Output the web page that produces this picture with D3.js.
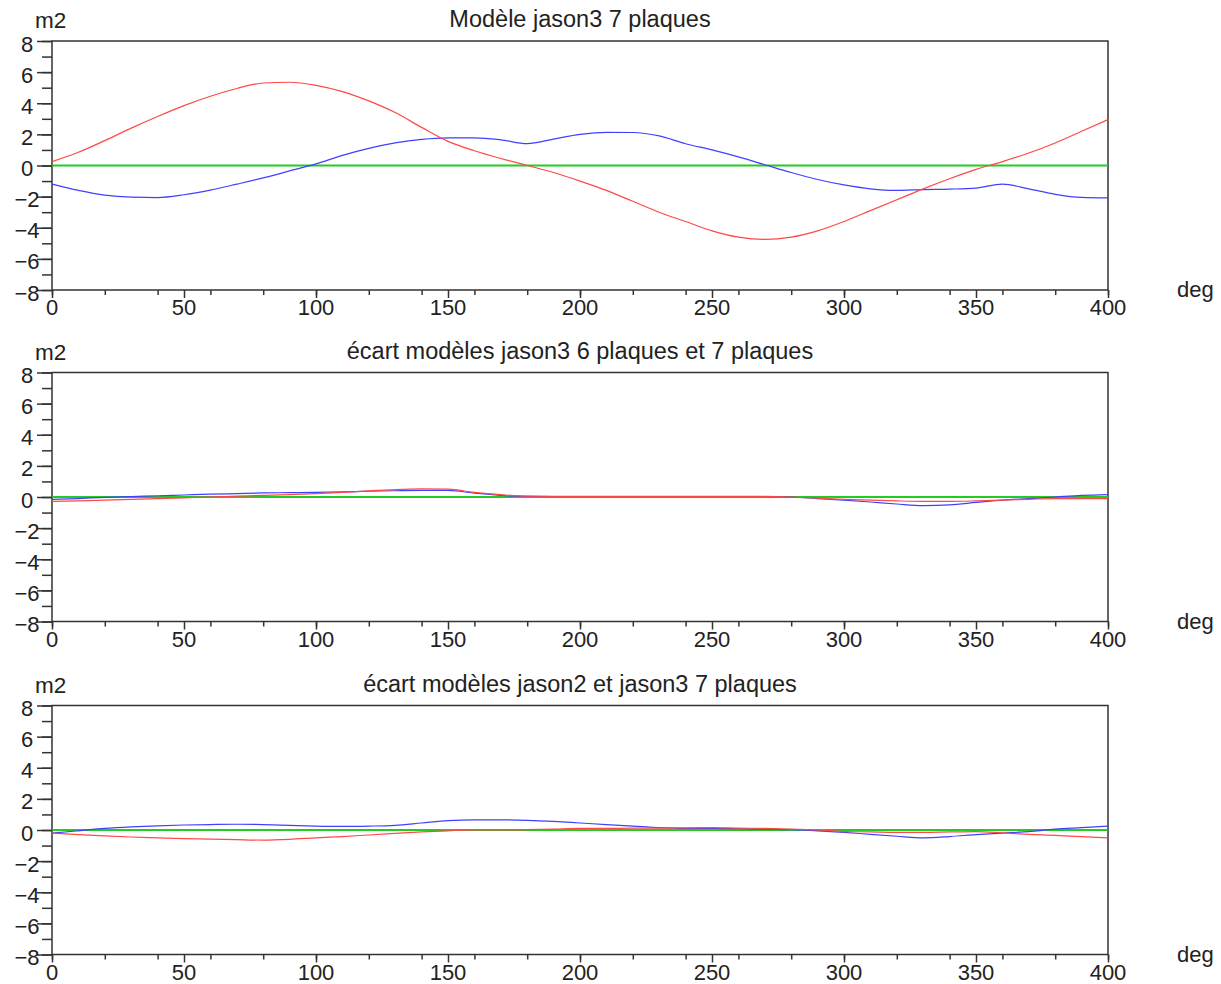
<!DOCTYPE html>
<meta charset="utf-8">
<style>
body { margin: 0; background: #ffffff; }
text { font-family: "Liberation Sans", Arial, sans-serif; fill: #222; }
</style>
<script src="https://d3js.org/d3.v7.min.js"></script>
<div id="chart"></div>
<script>
// angle samples (deg)
var deg = [0,10,20,30,40,50,60,70,80,90,100,110,120,130,140,150,160,170,180,190,200,
           210,220,230,240,250,260,270,280,290,300,310,320,330,340,350,360,370,380,390,400];

// panel 1 : Modèle jason3 7 plaques
var p1Red  = [0.25,0.85,1.6,2.4,3.15,3.85,4.45,4.95,5.3,5.35,5.15,4.75,4.15,3.4,2.45,1.55,0.95,0.45,0.0,-0.45,-1.0,
              -1.6,-2.3,-3.0,-3.6,-4.2,-4.6,-4.75,-4.6,-4.2,-3.6,-2.9,-2.2,-1.5,-0.85,-0.25,0.25,0.8,1.45,2.2,2.95];
var p1Blue = [-1.2,-1.6,-1.9,-2.03,-2.06,-1.88,-1.58,-1.2,-0.8,-0.35,0.1,0.65,1.1,1.45,1.68,1.78,1.78,1.65,1.4,1.7,2.0,
              2.13,2.12,1.9,1.4,1.0,0.55,0.05,-0.45,-0.9,-1.25,-1.5,-1.6,-1.55,-1.52,-1.45,-1.2,-1.5,-1.85,-2.05,-2.08];

// panel 2 : écart 6 / 7 plaques
var p2Red  = [-0.28,-0.25,-0.2,-0.15,-0.1,-0.05,0.0,0.05,0.1,0.15,0.22,0.3,0.4,0.48,0.52,0.5,0.3,0.15,0.05,0.04,0.04,
              0.04,0.04,0.04,0.04,0.04,0.04,0.04,0.0,-0.08,-0.15,-0.2,-0.25,-0.28,-0.28,-0.25,-0.2,-0.15,-0.1,-0.1,-0.1];
var p2Blue = [-0.15,-0.1,-0.02,0.03,0.08,0.13,0.18,0.22,0.26,0.28,0.3,0.33,0.37,0.4,0.42,0.42,0.25,0.1,0.04,0.03,0.03,
              0.03,0.03,0.03,0.03,0.03,0.03,0.03,0.0,-0.1,-0.2,-0.32,-0.45,-0.55,-0.5,-0.35,-0.2,-0.1,0.0,0.1,0.15];

// panel 3 : écart jason2 / jason3
var p3Red  = [-0.2,-0.3,-0.38,-0.45,-0.5,-0.55,-0.58,-0.62,-0.65,-0.6,-0.5,-0.42,-0.32,-0.22,-0.12,-0.05,0.0,0.0,0.02,0.05,0.1,
              0.1,0.12,0.12,0.14,0.15,0.12,0.1,0.05,0.0,-0.1,-0.12,-0.15,-0.15,-0.12,-0.1,-0.18,-0.28,-0.35,-0.42,-0.5];
var p3Blue = [-0.2,-0.05,0.1,0.2,0.27,0.32,0.35,0.37,0.35,0.3,0.25,0.23,0.25,0.3,0.45,0.6,0.65,0.65,0.62,0.55,0.45,
              0.35,0.25,0.15,0.1,0.1,0.08,0.05,0.02,-0.05,-0.15,-0.28,-0.4,-0.5,-0.42,-0.3,-0.2,-0.1,0.05,0.15,0.25];

var zero = [0,0,0,0,0,0,0,0,0,0,0,0,0,0,0,0,0,0,0,0,0,0,0,0,0,0,0,0,0,0,0,0,0,0,0,0,0,0,0,0,0];

var titles = ["Modèle jason3 7 plaques",
              "écart modèles jason3 6 plaques et 7 plaques",
              "écart modèles jason2 et jason3 7 plaques"];
var xTicks = [0,50,100,150,200,250,300,350,400];
var yTicks = [-8,-6,-4,-2,0,2,4,6,8];

var W = 1221, H = 984;
var left = 52, right = 1108, panelH = 249;
var tops = [41, 372.5, 705.5];

var svg = d3.select("#chart").append("svg")
    .attr("width", W).attr("height", H);

var x = d3.scaleLinear().domain([0, 400]).range([left, right]);

function drawPanel(i, red, blue) {
  var top = tops[i], bottom = top + panelH;
  var y = d3.scaleLinear().domain([-8, 8]).range([bottom, top]);
  var g = svg.append("g");

  // frame
  g.append("rect")
    .attr("x", left).attr("y", top)
    .attr("width", right - left).attr("height", panelH)
    .attr("fill", "none").attr("stroke", "#333").attr("stroke-width", 1.5);

  // y ticks : major every 2, minor every 1
  g.append("g")
    .attr("transform", "translate(" + left + ",0)")
    .call(d3.axisLeft(y).ticks(16).tickSize(10).tickFormat(""))
    .call(function(a) { a.select(".domain").remove(); });
  g.append("g")
    .attr("transform", "translate(" + left + ",0)")
    .call(d3.axisLeft(y).tickValues(yTicks).tickSize(15).tickFormat(""))
    .call(function(a) { a.select(".domain").remove(); });

  g.selectAll(".ylab")
    .data(yTicks).enter().append("text")
    .attr("x", 27).attr("y", function(d) { return y(d) + 10.5; })
    .attr("text-anchor", "middle")
    .style("font-size", "22px")
    .text(function(d) { return d < 0 ? "\u2212" + (-d) : d; });

  // x ticks : labelled every 50, minor every 25
  g.append("g")
    .attr("transform", "translate(0," + bottom + ")")
    .call(d3.axisBottom(x).ticks(16).tickSize(5).tickFormat(""))
    .call(function(a) { a.select(".domain").remove(); });
  g.append("g")
    .attr("transform", "translate(0," + bottom + ")")
    .call(d3.axisBottom(x).tickValues(xTicks).tickSize(8).tickFormat(""))
    .call(function(a) { a.select(".domain").remove(); });
  g.selectAll(".tick line").attr("stroke", "#333").attr("stroke-width", 1.5);

  g.selectAll(".xlab")
    .data(xTicks).enter().append("text")
    .attr("x", function(d) { return x(d); }).attr("y", bottom + 25)
    .attr("text-anchor", "middle")
    .style("font-size", "22px")
    .text(function(d) { return d; });

  // labels
  g.append("text").attr("x", 35).attr("y", top - 13)
    .style("font-size", "22.5px").text("m2");
  g.append("text").attr("x", 1177).attr("y", bottom + 7)
    .style("font-size", "22px").text("deg");
  g.append("text").attr("x", (left + right) / 2).attr("y", top - 14)
    .attr("text-anchor", "middle")
    .style("font-size", "23.5px").text(titles[i]);

  var line = d3.line()
    .x(function(d, k) { return x(deg[k]); })
    .y(function(d) { return y(d); })
    .curve(d3.curveMonotoneX);

  g.append("path").datum(zero).attr("d", line)
    .attr("fill", "none").attr("stroke", "#22cc22").attr("stroke-width", 2.2);
  g.append("path").datum(blue).attr("d", line)
    .attr("fill", "none").attr("stroke", "#4040ff").attr("stroke-width", 1.2);
  g.append("path").datum(red).attr("d", line)
    .attr("fill", "none").attr("stroke", "#ff4848").attr("stroke-width", 1.2);
}

drawPanel(0, p1Red, p1Blue);
drawPanel(1, p2Red, p2Blue);
drawPanel(2, p3Red, p3Blue);
</script>
